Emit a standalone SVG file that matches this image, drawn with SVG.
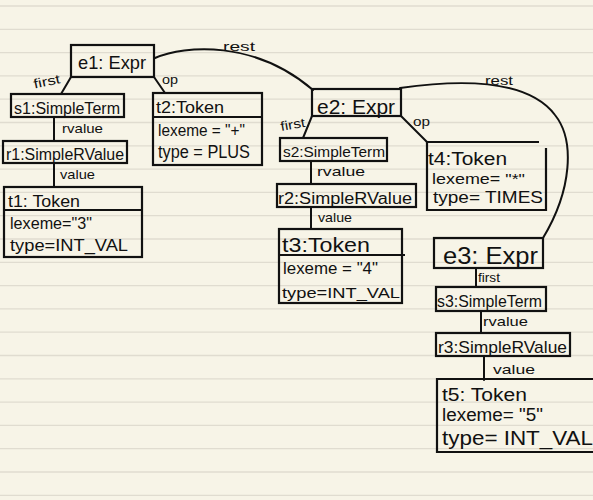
<svg xmlns="http://www.w3.org/2000/svg" width="593" height="500" viewBox="0 0 593 500">
  <defs>
    <style>
      .rule { stroke: #e0dcd0; stroke-width: 1.3; }
      .box { fill: none; stroke: #111; stroke-width: 2.2; }
      .edge { fill: none; stroke: #111; stroke-width: 2; stroke-linecap: round; }
      text { font-family: "Liberation Sans", Arial, sans-serif; fill: #111; lengthAdjust: spacingAndGlyphs; }
      .lbl { font-size: 13px; }
    </style>
  </defs>

  <!-- ruled paper -->
  <rect width="593" height="500" fill="#f7f4e7"/>
  <g id="paper-rules">
    <line class="rule" x1="0" y1="6" x2="593" y2="6"/>
    <line class="rule" x1="0" y1="29.3" x2="593" y2="29.3"/>
    <line class="rule" x1="0" y1="52.6" x2="593" y2="52.6"/>
    <line class="rule" x1="0" y1="75.9" x2="593" y2="75.9"/>
    <line class="rule" x1="0" y1="99.2" x2="593" y2="99.2"/>
    <line class="rule" x1="0" y1="122.5" x2="593" y2="122.5"/>
    <line class="rule" x1="0" y1="145.8" x2="593" y2="145.8"/>
    <line class="rule" x1="0" y1="169.1" x2="593" y2="169.1"/>
    <line class="rule" x1="0" y1="192.4" x2="593" y2="192.4"/>
    <line class="rule" x1="0" y1="215.7" x2="593" y2="215.7"/>
    <line class="rule" x1="0" y1="239" x2="593" y2="239"/>
    <line class="rule" x1="0" y1="262.3" x2="593" y2="262.3"/>
    <line class="rule" x1="0" y1="285.6" x2="593" y2="285.6"/>
    <line class="rule" x1="0" y1="308.9" x2="593" y2="308.9"/>
    <line class="rule" x1="0" y1="332.2" x2="593" y2="332.2"/>
    <line class="rule" x1="0" y1="355.5" x2="593" y2="355.5"/>
    <line class="rule" x1="0" y1="378.8" x2="593" y2="378.8"/>
    <line class="rule" x1="0" y1="402.1" x2="593" y2="402.1"/>
    <line class="rule" x1="0" y1="425.4" x2="593" y2="425.4"/>
    <line class="rule" x1="0" y1="448.7" x2="593" y2="448.7"/>
    <line class="rule" x1="0" y1="472" x2="593" y2="472"/>
    <line class="rule" x1="0" y1="495.3" x2="593" y2="495.3"/>
  </g>

  <!-- connectors and their role labels -->
  <g id="connectors">
    <line class="edge" x1="71" y1="77" x2="61" y2="94"/>
    <line class="edge" x1="154" y1="77" x2="165" y2="93"/>
    <line class="edge" x1="54" y1="117" x2="54" y2="141"/>
    <line class="edge" x1="54" y1="163" x2="54" y2="187"/>
    <path class="edge" d="M155,58 C185,45 255,40 313,90"/>
    <line class="edge" x1="312" y1="116" x2="303" y2="138"/>
    <line class="edge" x1="401" y1="116" x2="427" y2="142"/>
    <line class="edge" x1="311" y1="161" x2="311" y2="184"/>
    <line class="edge" x1="311" y1="207" x2="311" y2="229"/>
    <path class="edge" d="M400,88 C470,78 530,82 555,115 C575,140 572,190 543,238"/>
    <line class="edge" x1="476" y1="268" x2="476" y2="287"/>
    <line class="edge" x1="481" y1="311" x2="481" y2="333"/>
    <line class="edge" x1="484" y1="356" x2="484" y2="380"/>

    <text class="lbl" x="33" y="86" textLength="27" lengthAdjust="spacingAndGlyphs" transform="rotate(-12 46 80)">first</text>
    <text class="lbl" x="162" y="84" textLength="16" lengthAdjust="spacingAndGlyphs">op</text>
    <text class="lbl" x="62" y="133" textLength="41" lengthAdjust="spacingAndGlyphs">rvalue</text>
    <text class="lbl" x="60" y="179" textLength="35" lengthAdjust="spacingAndGlyphs">value</text>
    <text class="lbl" x="223" y="51" textLength="32" lengthAdjust="spacingAndGlyphs">rest</text>
    <text class="lbl" x="280" y="129" textLength="25" lengthAdjust="spacingAndGlyphs" transform="rotate(-10 292 123)">first</text>
    <text class="lbl" x="413" y="126" textLength="17" lengthAdjust="spacingAndGlyphs">op</text>
    <text class="lbl" x="317" y="176" textLength="48" lengthAdjust="spacingAndGlyphs">rvalue</text>
    <text class="lbl" x="318" y="222" textLength="34" lengthAdjust="spacingAndGlyphs">value</text>
    <text class="lbl" x="485" y="85" textLength="28" lengthAdjust="spacingAndGlyphs">rest</text>
    <text class="lbl" x="478" y="282" textLength="22" lengthAdjust="spacingAndGlyphs">first</text>
    <text class="lbl" x="483" y="326" textLength="45" lengthAdjust="spacingAndGlyphs">rvalue</text>
    <text class="lbl" x="493" y="374" textLength="42" lengthAdjust="spacingAndGlyphs">value</text>
  </g>

  <!-- first expression -->
  <g id="e1">
    <rect class="box" x="71" y="45" width="83" height="32"/>
    <text x="78" y="69" font-size="19" textLength="68" lengthAdjust="spacingAndGlyphs">e1: Expr</text>
  </g>
  <g id="s1">
    <rect class="box" x="11" y="94" width="113" height="23"/>
    <text x="14" y="114" font-size="16" textLength="106" lengthAdjust="spacingAndGlyphs">s1:SimpleTerm</text>
  </g>
  <g id="r1">
    <rect class="box" x="3" y="141" width="124" height="22"/>
    <text x="6" y="160" font-size="16" textLength="118" lengthAdjust="spacingAndGlyphs">r1:SimpleRValue</text>
  </g>
  <g id="t1">
    <rect class="box" x="4" y="187" width="138" height="70"/>
    <line class="box" x1="4" y1="210" x2="142" y2="210"/>
    <text x="8" y="207" font-size="17" textLength="72" lengthAdjust="spacingAndGlyphs">t1: Token</text>
    <text x="10" y="229" font-size="16" textLength="82" lengthAdjust="spacingAndGlyphs">lexeme="3"</text>
    <text x="10" y="251" font-size="17" textLength="118" lengthAdjust="spacingAndGlyphs">type=INT_VAL</text>
  </g>
  <g id="t2">
    <rect class="box" x="153" y="93" width="109" height="72"/>
    <line class="box" x1="153" y1="117" x2="262" y2="117"/>
    <text x="156" y="113" font-size="17" textLength="68" lengthAdjust="spacingAndGlyphs">t2:Token</text>
    <text x="158" y="136" font-size="16" textLength="87" lengthAdjust="spacingAndGlyphs">lexeme = "+"</text>
    <text x="158" y="158" font-size="18" textLength="92" lengthAdjust="spacingAndGlyphs">type = PLUS</text>
  </g>

  <!-- second expression -->
  <g id="e2">
    <rect class="box" x="312" y="89" width="89" height="27"/>
    <text x="317" y="114" font-size="20" textLength="78" lengthAdjust="spacingAndGlyphs">e2: Expr</text>
  </g>
  <g id="s2">
    <rect class="box" x="280" y="138" width="107" height="23"/>
    <text x="283" y="157" font-size="15" textLength="102" lengthAdjust="spacingAndGlyphs">s2:SimpleTerm</text>
  </g>
  <g id="r2">
    <rect class="box" x="277" y="184" width="139" height="23"/>
    <text x="278" y="204" font-size="16" textLength="134" lengthAdjust="spacingAndGlyphs">r2:SimpleRValue</text>
  </g>
  <g id="t3">
    <rect class="box" x="279" y="229" width="123" height="74"/>
    <line class="box" x1="279" y1="255" x2="405" y2="255"/>
    <text x="282" y="252" font-size="20" textLength="88" lengthAdjust="spacingAndGlyphs">t3:Token</text>
    <text x="283" y="274" font-size="16" textLength="95" lengthAdjust="spacingAndGlyphs">lexeme = "4"</text>
    <text x="282" y="298" font-size="15" textLength="118" lengthAdjust="spacingAndGlyphs">type=INT_VAL</text>
  </g>
  <g id="t4">
    <path class="box" d="M539,142 H427 V210 H546 V148"/>
    <text x="428" y="165" font-size="18" textLength="79" lengthAdjust="spacingAndGlyphs">t4:Token</text>
    <text x="432" y="184" font-size="15" textLength="93" lengthAdjust="spacingAndGlyphs">lexeme= "*"</text>
    <text x="433" y="203" font-size="17" textLength="110" lengthAdjust="spacingAndGlyphs">type= TIMES</text>
  </g>

  <!-- third expression -->
  <g id="e3">
    <rect class="box" x="434" y="238" width="109" height="30"/>
    <text x="443" y="264" font-size="23" textLength="95" lengthAdjust="spacingAndGlyphs">e3: Expr</text>
  </g>
  <g id="s3">
    <rect class="box" x="436" y="287" width="110" height="24"/>
    <text x="437" y="307" font-size="17" textLength="105" lengthAdjust="spacingAndGlyphs">s3:SimpleTerm</text>
  </g>
  <g id="r3">
    <rect class="box" x="436" y="333" width="134" height="23"/>
    <text x="438" y="353" font-size="17" textLength="129" lengthAdjust="spacingAndGlyphs">r3:SimpleRValue</text>
  </g>
  <g id="t5">
    <path class="box" d="M600,379 H437 V452 H600"/>
    <text x="442" y="401" font-size="18" textLength="85" lengthAdjust="spacingAndGlyphs">t5: Token</text>
    <text x="442" y="421" font-size="18" textLength="101" lengthAdjust="spacingAndGlyphs">lexeme= "5"</text>
    <text x="442" y="445" font-size="20" textLength="151" lengthAdjust="spacingAndGlyphs">type= INT_VAL</text>
  </g>
</svg>
